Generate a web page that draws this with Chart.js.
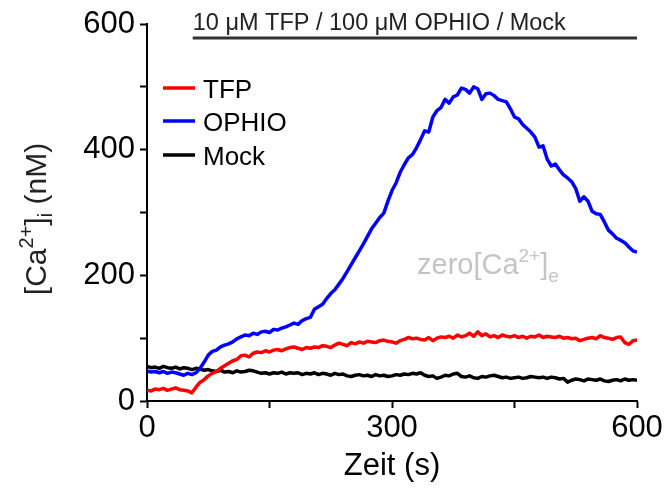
<!DOCTYPE html>
<html>
<head>
<meta charset="utf-8">
<script src="https://cdn.jsdelivr.net/npm/chart.js@4/dist/chart.umd.min.js"></script>
<style>
  html, body { margin: 0; padding: 0; background: #fff; }
  #wrap { width: 666px; height: 488px; }
</style>
</head>
<body>
<div id="wrap"><canvas id="myChart"></canvas></div>
<script>
// sampling every 5 s, 0..600 s
const step = 5;
const times = Array.from({ length: 121 }, (_, i) => i * step);

const tfp = [
  17, 16, 19, 18, 20, 17, 19, 21, 18, 17,
  16, 13, 22, 30, 34, 40, 44, 47, 52, 56,
  60, 64, 66, 72, 73, 70, 76, 78, 77, 80,
  78, 81, 82, 80, 83, 85, 86, 84, 82, 85,
  84, 86, 85, 88, 87, 85, 89, 92, 90, 88,
  93, 91, 94, 92, 95, 94, 93, 96, 97, 95,
  94, 92, 96, 98, 101, 99, 100, 98, 97, 101,
  96, 100, 102, 101, 103, 100, 105, 102, 104, 108,
  103, 110, 104, 107, 102, 104, 101, 105, 103, 102,
  104, 101, 103, 100, 103, 102, 105, 101, 103, 102,
  101, 103, 100, 101, 99, 100, 96, 98, 100, 101,
  99, 104, 101, 100, 98, 101, 102, 93, 90, 96,
  97
];

const ophio = [
  48, 46, 47, 45, 47, 44, 46, 45, 43, 41,
  44, 42, 45, 52, 62, 73, 79, 81, 86, 89,
  91, 94, 99, 102, 105, 104, 108, 106, 110, 111,
  109, 114, 113, 116, 118, 121, 124, 122, 128, 131,
  133, 146, 150, 154, 163, 171, 177, 186, 195, 206,
  217, 228, 239, 250, 262, 274, 283, 292, 299, 318,
  335, 347, 364, 376, 387, 392, 403, 416, 430, 428,
  452, 462, 467, 480, 474, 484, 487, 498, 496, 490,
  500, 497, 480, 489, 490, 486, 480, 478, 476, 465,
  452, 449, 440, 434, 428, 420, 404, 406, 385, 374,
  377, 368, 360, 355, 349, 338, 318, 325, 318, 302,
  298, 297, 285, 272, 266, 259, 256, 252, 245, 239,
  237
];

const mock = [
  55, 53, 54, 52, 55, 53, 52, 54, 51, 53,
  52, 50, 52, 51, 49, 50, 48, 47, 49, 46,
  47, 45, 48, 46, 47, 49, 48, 46, 44, 45,
  43, 45, 44, 46, 43, 45, 44, 45, 42, 44,
  43, 45, 42, 44, 43, 41, 44, 42, 43, 40,
  39, 41, 42, 40, 41, 39, 42, 40, 41, 39,
  40, 42, 41, 43, 42, 44, 43, 45, 41, 39,
  40, 36, 38, 41, 40, 43, 44, 39, 38, 40,
  37, 36, 39, 38, 40, 41, 39, 37, 38, 36,
  37, 38, 36, 37, 39, 38, 37, 38, 36, 38,
  37, 35, 36, 30, 33, 35, 34, 32, 35, 34,
  33, 35, 32, 31, 33, 34, 32, 35, 33, 34,
  33
];

const seriesNames = ['TFP', 'OPHIO', 'Mock'];
const seriesColors = ['#ff0000', '#0000ff', '#000000'];
const xTickLabels = [0, 300, 600];
const yTickLabels = [0, 200, 400, 600];
const stimStart = 56;   // s, start of the treatment bar
const stimLabel = '10 μM TFP / 100 μM OPHIO / Mock';

const FONT = '"Liberation Sans", Arial, Helvetica, sans-serif';
Chart.defaults.font.family = FONT;
Chart.defaults.color = '#000';

function pts(arr) {
  return arr.map((v, i) => ({ x: times[i], y: v }));
}

function drawRich(c, parts, x, y) {
  let cx = x;
  parts.forEach(p => {
    c.font = p.size + 'px ' + FONT;
    c.fillText(p.t, cx, y + p.dy);
    cx += c.measureText(p.t).width;
  });
}
function richWidth(c, parts) {
  let w = 0;
  parts.forEach(p => {
    c.font = p.size + 'px ' + FONT;
    w += c.measureText(p.t).width;
  });
  return w;
}

const overlay = {
  id: 'overlay',
  afterDraw(chart) {
    const c = chart.ctx;
    const xs = chart.scales.x;
    c.save();

    // treatment bar + label
    const x0 = xs.getPixelForValue(stimStart);
    const x1 = xs.getPixelForValue(600);
    c.strokeStyle = '#333';
    c.lineWidth = 3;
    c.beginPath();
    c.moveTo(x0, 38);
    c.lineTo(x1, 38);
    c.stroke();
    c.fillStyle = '#222';
    c.textBaseline = 'alphabetic';
    c.textAlign = 'left';
    c.font = '23.5px ' + FONT;
    c.fillText(stimLabel, x0, 30);

    // legend
    const ly = [88, 121, 155];
    seriesNames.forEach((n, i) => {
      c.strokeStyle = seriesColors[i];
      c.lineWidth = 3.5;
      c.beginPath();
      c.moveTo(163, ly[i]);
      c.lineTo(195, ly[i]);
      c.stroke();
      c.fillStyle = '#000';
      c.font = '26px ' + FONT;
      c.fillText(n, 203, ly[i] + 9.5);
    });

    // zero[Ca2+]e note
    c.fillStyle = '#c4c4c4';
    drawRich(c, [
      { t: 'zero[Ca', size: 29, dy: 0 },
      { t: '2+', size: 19, dy: -12 },
      { t: ']', size: 29, dy: 0 },
      { t: 'e', size: 19, dy: 8 }
    ], 417, 274);

    // y axis title
    const yParts = [
      { t: '[Ca', size: 30, dy: 0 },
      { t: '2+', size: 20, dy: -13 },
      { t: ']', size: 30, dy: 0 },
      { t: 'i', size: 20, dy: 6 },
      { t: ' (nM)', size: 30, dy: 0 }
    ];
    c.fillStyle = '#222';
    const w = richWidth(c, yParts);
    c.translate(46, 219);
    c.rotate(-Math.PI / 2);
    drawRich(c, yParts, -w / 2, 0);

    c.restore();
  }
};

const ctx = document.getElementById('myChart').getContext('2d');
new Chart(ctx, {
  type: 'line',
  data: {
    datasets: [
      { label: seriesNames[0], data: pts(tfp), borderColor: seriesColors[0] },
      { label: seriesNames[1], data: pts(ophio), borderColor: seriesColors[1] },
      { label: seriesNames[2], data: pts(mock), borderColor: seriesColors[2] }
    ]
  },
  options: {
    responsive: true,
    maintainAspectRatio: false,
    animation: false,
    events: [],
    layout: { padding: { left: 0, top: 24, right: 29, bottom: 0 } },
    elements: {
      point: { radius: 0 },
      line: { borderWidth: 3.5, tension: 0, borderJoinStyle: 'round' }
    },
    plugins: { legend: { display: false }, tooltip: { enabled: false } },
    scales: {
      x: {
        type: 'linear',
        min: 0,
        max: 600,
        afterFit: s => { s.height = 87; },
        afterBuildTicks: s => {
          s.ticks = [0, 150, 300, 450, 600].map(v => ({ value: v }));
        },
        ticks: {
          font: { size: 31 },
          color: '#000',
          padding: 2,
          maxRotation: 0,
          callback: v => xTickLabels.includes(v) ? String(v) : ''
        },
        grid: {
          drawOnChartArea: false,
          tickLength: 7,
          tickWidth: 2,
          tickColor: '#000'
        },
        border: { color: '#000', width: 2 },
        title: {
          display: true,
          text: 'Zeit (s)',
          font: { size: 31 },
          color: '#000',
          padding: { top: 0, bottom: 3 }
        }
      },
      y: {
        min: 0,
        max: 600,
        afterFit: s => { s.width = 147; },
        ticks: {
          stepSize: 100,
          font: { size: 31 },
          color: '#000',
          padding: 5,
          callback: v => yTickLabels.includes(v) ? String(v) : ''
        },
        grid: {
          drawOnChartArea: false,
          tickLength: 7,
          tickWidth: 2,
          tickColor: '#000'
        },
        border: { color: '#000', width: 2 }
      }
    }
  },
  plugins: [overlay]
});
</script>
</body>
</html>
